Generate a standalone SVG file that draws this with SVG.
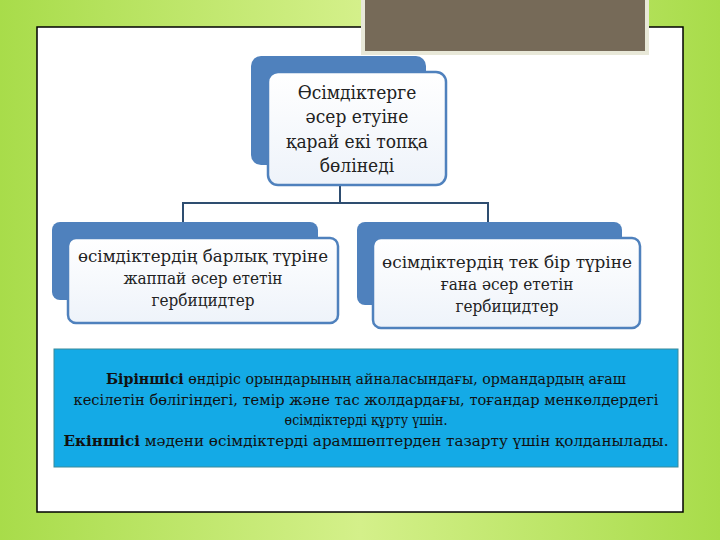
<svg xmlns="http://www.w3.org/2000/svg" width="720" height="540" viewBox="0 0 720 540">
<defs>
<linearGradient id="bg" x1="0" y1="0" x2="1" y2="0">
<stop offset="0" stop-color="#a8dc4a"/><stop offset="0.5" stop-color="#d4f08a"/><stop offset="1" stop-color="#a8dc4a"/>
</linearGradient>
<linearGradient id="fr" x1="0" y1="0" x2="0" y2="1">
<stop offset="0" stop-color="#ffffff"/><stop offset="1" stop-color="#eef3fa"/>
</linearGradient>
</defs>
<style>
.back{fill:#4f81bd}
.front{fill:url(#fr);stroke:#4f81bd;stroke-width:2.5}
.t{font-family:"DejaVu Serif Condensed","DejaVu Serif",serif;fill:#222;text-anchor:middle}
.b{font-family:"DejaVu Serif Condensed","DejaVu Serif",serif;font-size:14px;fill:#111;text-anchor:middle}
</style>
<rect width="720" height="540" fill="url(#bg)"/>
<rect x="37" y="27" width="646" height="485" fill="#ffffff" stroke="#000" stroke-width="1.5"/>
<rect x="363" y="-4" width="284" height="57" fill="#766a58" stroke="#e8e8d8" stroke-width="4"/>
<g id="connectors" stroke="#2e4d70" stroke-width="2" fill="none">
<path d="M340 185V203M183 222V203H488V222"/>
</g>
<g id="top">
<rect class="back" x="251" y="56" width="175" height="109" rx="10"/>
<rect class="front" x="268" y="72" width="178" height="113" rx="10"/>
<text class="t" font-size="19"><tspan x="357" y="99">Өсімдіктерге</tspan><tspan x="357" y="123">әсер етуіне</tspan><tspan x="357" y="148">қарай екі топқа</tspan><tspan x="357" y="172">бөлінеді</tspan></text>
</g>
<g id="left">
<rect class="back" x="52" y="222" width="266" height="78" rx="8"/>
<rect class="front" x="68" y="238" width="270" height="85" rx="8"/>
<text class="t" font-size="17"><tspan x="203" y="262" textLength="250" lengthAdjust="spacingAndGlyphs">өсімдіктердің барлық түріне</tspan><tspan x="203" y="284">жаппай әсер ететін</tspan><tspan x="203" y="306">гербицидтер</tspan></text>
</g>
<g id="right">
<rect class="back" x="357" y="222" width="265" height="83" rx="8"/>
<rect class="front" x="373" y="238" width="267" height="90" rx="8"/>
<text class="t" font-size="17"><tspan x="507" y="268" textLength="250" lengthAdjust="spacingAndGlyphs">өсімдіктердің тек бір түріне</tspan><tspan x="507" y="290">ғана әсер ететін</tspan><tspan x="507" y="312">гербицидтер</tspan></text>
</g>
<g id="note">
<rect x="54" y="349" width="624" height="118" fill="#14aae6" stroke="#3a8a9a" stroke-width="1"/>
<text class="b" x="366" y="384" textLength="520" lengthAdjust="spacingAndGlyphs"><tspan font-weight="bold">Біріншісі</tspan> өндіріс орындарының айналасындағы, ормандардың ағаш</text>
<text class="b" x="366" y="405" textLength="585" lengthAdjust="spacingAndGlyphs">кесілетін бөлігіндегі, темір және тас жолдардағы, тоғандар менкөлдердегі</text>
<text class="b" x="366" y="425">өсімдіктерді құрту үшін.</text>
<text class="b" x="366" y="446" textLength="605" lengthAdjust="spacingAndGlyphs"><tspan font-weight="bold">Екіншісі</tspan> мәдени өсімдіктерді арамшөптерден тазарту үшін қолданылады.</text>
</g>
</svg>
